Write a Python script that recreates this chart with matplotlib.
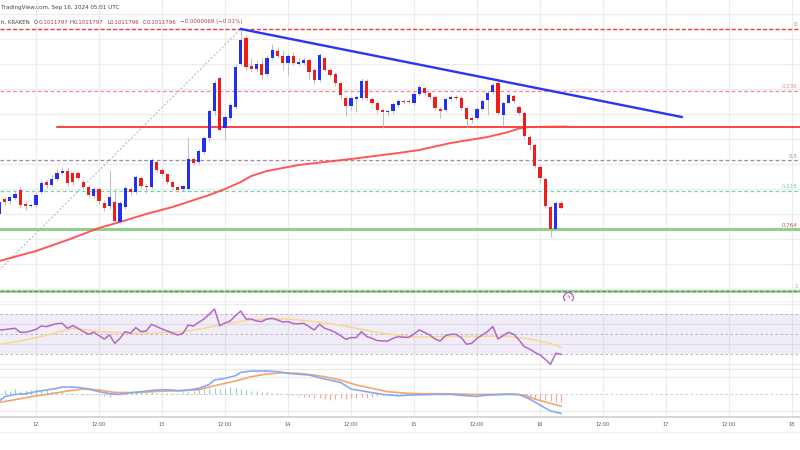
import matplotlib
matplotlib.use("Agg")
import matplotlib.pyplot as plt
import matplotlib.transforms as mtransforms
from matplotlib.lines import Line2D
import numpy as np

# hourly candles, x = hours since Sep 12 00:00, prices in 1e-5 units
hours = list(range(-7, 101))
opens = [10100, 10130, 10126, 10132, 10148, 10120, 10116,
         10118, 10144, 10164, 10158, 10170, 10182, 10186, 10182, 10182, 10164,
         10154, 10136, 10150, 10122, 10116, 10124, 10084, 10114, 10150, 10144,
         10172, 10156, 10154, 10204, 10188, 10180, 10164, 10154, 10150, 10150,
         10210, 10204, 10224, 10252, 10306, 10372, 10272, 10292, 10314, 10400,
         10452, 10396, 10390, 10400, 10380, 10412, 10426, 10416, 10402, 10416,
         10400, 10402, 10408, 10388, 10368, 10412, 10388, 10380, 10362, 10332,
         10316, 10330, 10332, 10366, 10330, 10322, 10308, 10304, 10306, 10318,
         10326, 10326, 10322, 10340, 10352, 10342, 10334, 10310, 10308, 10330,
         10334, 10332, 10312, 10292, 10292, 10310, 10328, 10344, 10362, 10298,
         10322, 10336, 10314, 10302, 10254, 10238, 10194, 10170, 10114, 10070,
         10122]
highs = [10130, 10134, 10138, 10148, 10154, 10124, 10122,
         10144, 10168, 10168, 10178, 10190, 10194, 10194, 10186, 10186, 10168,
         10158, 10154, 10154, 10128, 10188, 10150, 10126, 10156, 10154, 10178,
         10176, 10160, 10212, 10208, 10192, 10182, 10166, 10156, 10158, 10254,
         10214, 10230, 10256, 10310, 10368, 10376, 10298, 10322, 10400, 10470,
         10456, 10412, 10408, 10412, 10418, 10440, 10434, 10428, 10420, 10424,
         10412, 10414, 10412, 10392, 10422, 10416, 10392, 10384, 10366, 10336,
         10336, 10338, 10372, 10370, 10334, 10326, 10312, 10310, 10324, 10330,
         10330, 10330, 10344, 10358, 10356, 10346, 10338, 10314, 10334, 10338,
         10338, 10336, 10316, 10296, 10314, 10330, 10346, 10362, 10370, 10326,
         10342, 10340, 10318, 10306, 10258, 10242, 10198, 10174, 10118, 10126,
         10128]
lows = [10094, 10118, 10120, 10128, 10112, 10108, 10114,
        10114, 10140, 10152, 10154, 10166, 10178, 10156, 10158, 10168, 10150,
        10134, 10132, 10120, 10106, 10110, 10082, 10080, 10110, 10138, 10140,
        10152, 10142, 10150, 10184, 10176, 10160, 10150, 10144, 10146, 10148,
        10198, 10200, 10220, 10244, 10298, 10266, 10248, 10288, 10310, 10396,
        10388, 10384, 10386, 10368, 10376, 10408, 10412, 10388, 10378, 10398,
        10396, 10398, 10368, 10360, 10364, 10384, 10374, 10356, 10330, 10296,
        10308, 10304, 10328, 10328, 10318, 10302, 10272, 10296, 10300, 10314,
        10320, 10320, 10318, 10336, 10338, 10330, 10308, 10292, 10304, 10326,
        10328, 10308, 10274, 10282, 10288, 10306, 10298, 10340, 10298, 10276,
        10320, 10322, 10298, 10252, 10228, 10192, 10162, 10112, 10054, 10068,
        10110]
closes = [10124, 10124, 10134, 10140, 10118, 10116, 10118,
          10138, 10162, 10158, 10170, 10182, 10186, 10162, 10164, 10172, 10154,
          10138, 10150, 10126, 10112, 10134, 10086, 10122, 10152, 10144, 10174,
          10156, 10154, 10208, 10188, 10180, 10164, 10154, 10148, 10156, 10210,
          10202, 10226, 10252, 10306, 10362, 10268, 10294, 10318, 10394, 10448,
          10394, 10390, 10400, 10378, 10412, 10428, 10416, 10402, 10416, 10402,
          10404, 10408, 10384, 10368, 10418, 10388, 10378, 10362, 10338, 10316,
          10332, 10334, 10366, 10332, 10322, 10308, 10304, 10306, 10320, 10326,
          10324, 10324, 10340, 10354, 10342, 10334, 10312, 10306, 10330, 10334,
          10332, 10312, 10290, 10288, 10310, 10326, 10342, 10358, 10302, 10322,
          10338, 10326, 10302, 10256, 10238, 10196, 10172, 10116, 10070, 10122,
          10112]

# 100 MA (red curve)
ma_hours = [-7, 0, 6, 12, 16, 21, 26, 33, 36, 39, 41, 44, 47, 50, 60, 69, 73, 79, 86, 90, 92, 94, 101]
ma_values = [10006, 10026, 10048, 10072, 10084, 10100, 10114, 10138, 10150, 10164, 10176, 10186,
             10192, 10198, 10210, 10222, 10228, 10242, 10254, 10264, 10271, 10274, 10275]

# drawings
fib_hours = [-11, 39]
fib_prices = [9946, 10470]
fib_ratios = [0, 0.236, 0.5, 0.618, 0.764, 1]
fib_labels = ["0", "0.236", "0.5", "0.618", "0.764", "1"]
fib_colors = ["#f23645", "#f4878f", "#a3879a", "#6fd6b4", "#d04a4a", "#64b5f6"]
trend_hours = [39, 123]
trend_prices = [10470, 10294]
resistance_start = 4
resistance_price = 10274
support_price = 10070

# RSI (14) and its MA
rsi = [54.3, 54.7, 55.3, 56, 52, 52, 53.3,
       55, 58.3, 57.7, 59.3, 60.7, 61, 56, 58.7, 56, 52.7,
       50, 52, 48.7, 45.3, 49.3, 41, 46, 52.7, 51, 56.7,
       52.7, 53.3, 60, 57.7, 55.3, 53.3, 51.3, 49.3, 51, 59.3,
       58.3, 62, 65.3, 70, 75.3, 58.7, 61.3, 63.3, 68.7, 73.3,
       65.3, 65.3, 63.3, 62.7, 65.3, 66, 64.3, 62.3, 62.7, 60.7,
       60.5, 61, 57.7, 54.3, 60, 56, 54.3, 52, 48.7, 45,
       46.7, 46.7, 52.7, 47.7, 46, 43.7, 43.3, 43.3, 46, 47.7,
       47, 47, 50.3, 54.3, 52, 49.3, 45.3, 43.3, 48.7, 50,
       50, 46.7, 40, 41, 46, 49.3, 52.7, 57.7, 45.3, 48.7,
       52, 50, 44.3, 37.7, 35.3, 32, 29.3, 25, 20, 31,
       30]
rsi_ma_hours = [-7, -3, 1, 5, 7, 12, 18, 25, 29, 32, 36, 40, 44, 48, 52, 56, 61, 66, 71, 75, 80, 85, 90, 94, 98, 100]
rsi_ma_values = [40, 43.3, 47.7, 53.3, 56, 52.7, 51, 51.7, 53.3, 56, 60, 64, 65.3, 65.3, 63.3, 60.7,
                 56, 51, 47.7, 47.3, 48, 48, 48, 45.3, 41, 37]

# MACD
macd_hours = [-7, -6, -4, -2, 0, 2, 4, 5, 7, 8, 10, 12, 14, 16, 18, 20, 22, 24, 26, 27, 29, 31, 33,
              34, 36, 38, 39, 41, 44, 46, 48, 52, 55, 58, 60, 63, 66, 69, 72, 76, 79, 82, 84, 86,
              90, 92, 94, 96, 98, 100]
macd_values = [-7.3, -3, -0.7, 0, 2, 3.7, 5.3, 6.7, 6.7, 6.3, 4.7, 2, 0, -0.7, 1, 2, 3.3, 4, 3.7, 3,
               3.7, 5.3, 9.3, 13.7, 15.3, 18, 21.3, 22.7, 22.7, 22, 20.3, 18.7, 14.7, 11.3, 4.7, 2,
               -0.7, -2, -1.3, -0.7, -0.7, -2, -2.7, -1.3, -0.7, -0.7, -5.3, -11.3, -17.3, -19.7]
signal_hours = [-7, -4, -1, 3, 6, 9, 12, 15, 19, 22, 25, 28, 31, 34, 38, 41, 44, 47, 50, 52, 55, 58,
                61, 64, 67, 71, 74, 77, 80, 83, 87, 90, 93, 95, 98, 100]
signal_values = [-8.7, -6, -3, 0, 2.7, 4.7, 3.7, 1.3, 1, 2, 2.7, 3, 4, 8, 12.7, 17, 19.7, 21, 20.3,
                 19.3, 17, 13.7, 8.7, 5.3, 2, 0.3, 0, 0, -0.3, -0.7, -0.7, -0.3, -1.3, -5.3, -9.7, -12.5]
hist = [3, 4, 3, 5, 3, 4, 4,
        5, 4, 4, 3, 2, 1.5, 1, 0.5, -0.5, -1,
        -1, -1.5, -1.5, -2, -3, -1, 0.5, 1, 2, 2.5,
        3, 2, 1.5, 1, 1, 0.5, 0.5, 1, 1.5, 2,
        3, 4, 5, 5.5, 6, 5, 5, 7, 6, 5,
        4, 3, 2.5, 2, 1.5, 1, 0.5, -0.5, -1, -1.5,
        -2.5, -3, -3.5, -4, -4.5, -5, -6, -5, -4.5, -5,
        -4.5, -4, -3.5, -4, -3, -2.5, -1.5, -1, -0.5, -0.5,
        -0.3, 0.3, 0.5, 0.5, 0.3, -0.3, -0.5, -0.5, -0.3, 0.3,
        0.3, -0.3, -0.5, -0.7, -0.5, 0.3, 0.5, 1, 0.7, 0.3,
        0.2, -0.5, -1, -2, -3, -4, -5, -6, -7, -8,
        -8]

tick_hours = list(range(0, 145, 12))
tick_labels = ["12", "12:00", "13", "12:00", "14", "12:00", "15", "12:00", "16", "12:00", "17", "12:00", "18"]

BLUE = "#2430f0"
RED = "#f01c1c"
GRID = "#ececec"
W, H = 800, 450

fig = plt.figure(figsize=(8, 4.5), dpi=100)
fig.patch.set_facecolor("white")


def pane(top, bottom):
    a = fig.add_axes([0, 1 - bottom / H, 1, (bottom - top) / H])
    for s in a.spines.values():
        s.set_visible(False)
    a.set_xlim(-36 / 5.25, (W - 36) / 5.25)
    a.set_yticks([])
    for k in tick_hours:
        a.axvline(k, color=GRID, lw=0.8, zorder=0)
    return a


ax = pane(0, 301)
ax_rsi = pane(301, 369)
ax_macd = pane(369, 416.7)

# ---- price pane ----
sc = 1e5
ax.set_ylim(9926 / sc, 10528 / sc)
ax.set_xticks([])
for p in range(9950, 10501, 50):
    ax.axhline(p / sc, color=GRID, lw=0.8, zorder=0)

t = np.array(hours)
o = np.array(opens) / sc
h = np.array(highs) / sc
l = np.array(lows) / sc
c = np.array(closes) / sc

hi, lo = fib_prices[1], fib_prices[0]
trans = mtransforms.blended_transform_factory(ax.transAxes, ax.transData)
fib_styles = [(1.0, (0, (3, 1.5))), (0.9, (0, (3, 2))), (0.9, (0, (3, 2))), (0.9, (0, (3, 2))),
              (0.9, (0, (3, 2))), (1.0, (0, (3, 1.5)))]
for r, lab, col, (lw, ls) in zip(fib_ratios, fib_labels, fib_colors, fib_styles):
    lv = (hi - r * (hi - lo)) / sc
    if r == 1:
        ax.axhline(lv, color="#a5d6a7", lw=2.0, zorder=1)
        ax.axhline(lv, color="#43a047", lw=0.9, ls=ls, zorder=1)
    else:
        ax.axhline(lv, color=col, lw=lw, ls=ls, zorder=1)
    ax.text(0.997, lv + 3e-5, lab, transform=trans, ha="right", va="bottom",
            fontsize=4, color=col if r != 0 else "#888888")

ax.axhline(support_price / sc, color="#8fcf90", lw=2.2, zorder=1)
ax.plot([resistance_start, 160], [resistance_price / sc] * 2, color="#ff1010", lw=1.1, zorder=2)
ax.plot(fib_hours, np.array(fib_prices) / sc, color="#b0b0b0", lw=0.7, ls=(0, (2, 2)), zorder=1)
ax.plot(ma_hours, np.array(ma_values) / sc, color="#ff4545", lw=1.4, zorder=2, alpha=0.9)

ax.vlines(t, l, h, color="#b4b4b4", lw=0.6, zorder=3)
up = c >= o
bot = np.minimum(o, c)
bh = np.maximum(np.abs(c - o), 1.2e-5)
ax.bar(t, bh, 0.64, bottom=bot, color=np.where(up, BLUE, RED), linewidth=0, zorder=4)

ax.plot(trend_hours, np.array(trend_prices) / sc, color="#2936f0", lw=1.7, zorder=5)

# event marker
ax.plot(101.3, 9934 / sc, marker="o", ms=7, mfc="white", mec="#ab47bc", mew=0.8,
        clip_on=False, zorder=10)
ax.text(101.3, 9934 / sc, "ϟ", ha="center", va="center", fontsize=4, color="#ab47bc",
        clip_on=False, zorder=11)

# ---- RSI pane ----
ax_rsi.set_ylim(15.3, 83.3)
ax_rsi.set_xticks([])
for v in (20, 40, 60, 80):
    ax_rsi.axhline(v, color=GRID, lw=0.8, zorder=0)
ax_rsi.axhspan(30, 70, color="#7e57c2", alpha=0.1, lw=0, zorder=0)
for v in (30, 50, 70):
    ax_rsi.axhline(v, color="#b3a7bd", lw=0.6, ls=(0, (3, 3)), zorder=1)
ax_rsi.plot(rsi_ma_hours, rsi_ma_values, color="#f7d88c", lw=1.1, zorder=2)
ax_rsi.plot(hours, rsi, color="#b168c6", lw=1.1, zorder=3)

# ---- MACD pane ----
ax_macd.set_ylim(-23, 24.7)
for v in (-17, 17):
    ax_macd.axhline(v, color=GRID, lw=0.8, zorder=0)
ax_macd.axhline(0, color="#c4c4c4", lw=0.6, ls=(0, (3, 3)), zorder=1)
hv = np.array(hist)
ax_macd.vlines(t, 0, hv, colors=np.where(hv >= 0, "#8fd3c9", "#f5a3a3"), lw=0.8, zorder=2)
ax_macd.plot(signal_hours, signal_values, color="#f6a46e", lw=1.2, zorder=3)
ax_macd.plot(macd_hours, macd_values, color="#84aaf6", lw=1.2, zorder=4)
ax_macd.set_xticks(tick_hours, tick_labels)
ax_macd.tick_params(axis="x", length=0, pad=4, labelsize=3.6, labelcolor="#555555")

# separators
for yp, col, lw in [(301, "#eeeeee", 0.8), (369, "#e6e6e6", 0.8), (416.7, "#cfcfcf", 1.2), (432, "#eeeeee", 0.8)]:
    fig.add_artist(Line2D([0, 1], [1 - yp / H] * 2, color=col, lw=lw))

# ---- header ----
fig.text(1 / W, 1 - 7 / H, "TradingView.com, Sep 16, 2024 05:01 UTC", fontsize=4.1,
         color="#444444", ha="left", va="center")
renderer = fig.canvas.get_renderer()
header = [(1, [("h, KRAKEN", "#444444")]),
          (34, [("O", "#444444"), ("0.1011797", "#b23a3a")]),
          (69, [("H", "#444444"), ("0.1011797", "#b23a3a")]),
          (107, [("L", "#444444"), ("0.1011796", "#b23a3a")]),
          (143, [("C", "#444444"), ("0.1011796", "#b23a3a")]),
          (180, [("\u22120.0000068 (\u22120.01%)", "#b23a3a")])]
for x0, parts in header:
    x = x0
    for s, col in parts:
        tx = fig.text(x / W, 1 - 22 / H, s, fontsize=4, color=col, ha="left", va="center")
        x += tx.get_window_extent(renderer).width

fig.savefig("out.png", dpi=100, facecolor="white")
